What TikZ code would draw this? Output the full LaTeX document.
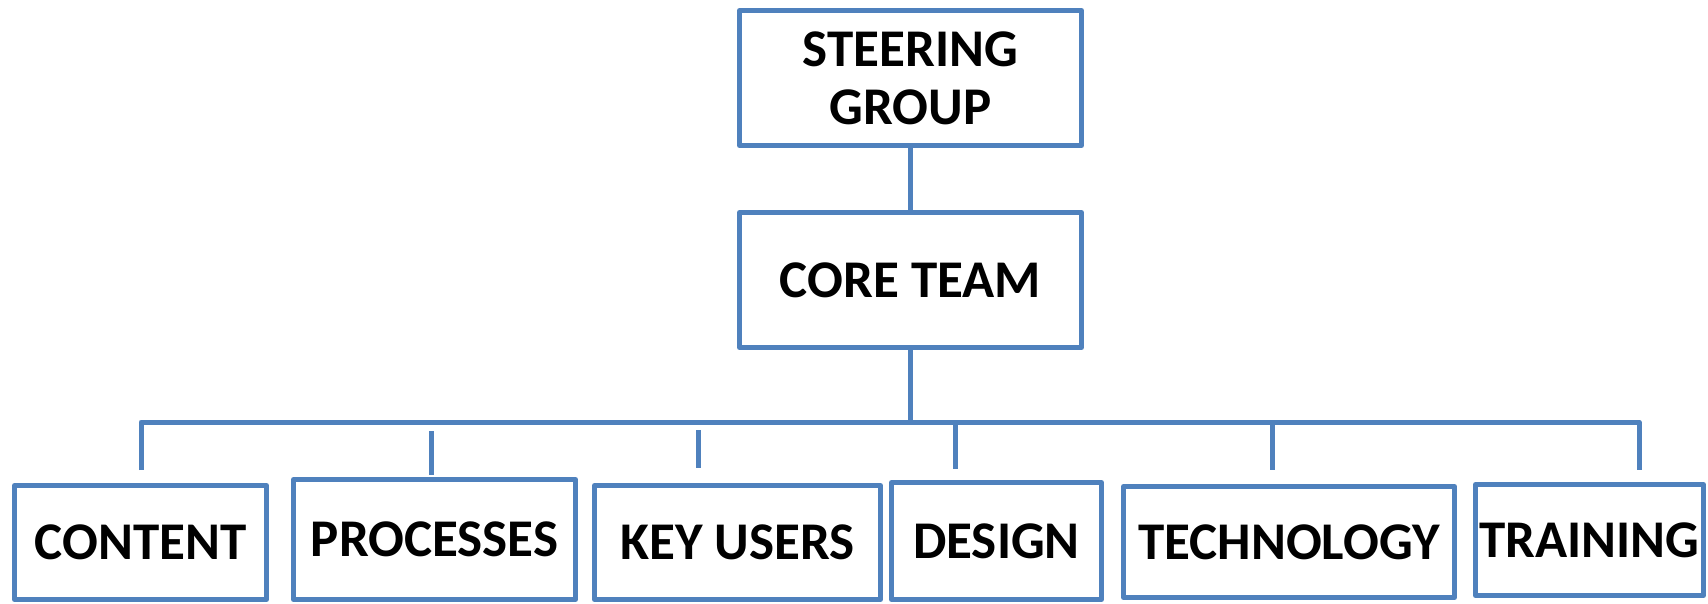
\documentclass[tikz,border=0pt]{standalone}
\usepackage{fontspec}
\setmainfont{Carlito}
\definecolor{boxblue}{RGB}{79,129,189}

\begin{document}
\begin{tikzpicture}[x=1pt,y=-1pt]
\tikzstyle{box}=[rectangle,draw,color=boxblue,text=black,line width=5pt,line join=round,inner sep=0pt,align=center,font=\bfseries\fontsize{53}{58}\selectfont]
\tikzstyle{link}=[draw=boxblue,line width=5pt,line join=round]
\useasboundingbox (0,0) rectangle (1708,604);

\node (1) at (910.5,78) [box,minimum width=342,minimum height=135]{STEERING\\GROUP};
\node (2) at (910.5,280) [box,minimum width=342,minimum height=135]{CORE TEAM};

\node (3) at (140.5,542.5) [box,minimum width=252,minimum height=114]{CONTENT};
\node (4) at (434.5,539.5) [box,minimum width=282,minimum height=120]{PROCESSES};
\node (5) at (737.5,542.5) [box,minimum width=286,minimum height=114]{KEY USERS};
\node (6) at (996.5,541) [box,minimum width=210,minimum height=117]{DESIGN};
\node (7) at (1289,542) [box,minimum width=331,minimum height=111]{TECHNOLOGY};
\node (8) at (1589.5,540) [box,minimum width=228,minimum height=111]{TRAINING};

% bus under the core team
\coordinate (9) at (910.5,422);
\coordinate (10) at (141,422);
\coordinate (11) at (1639,422);
\coordinate (12) at (431,431);
\coordinate (13) at (698,430);
\coordinate (14) at (955,422);
\coordinate (15) at (1272,422);

\draw[link] (1) -- (2);
\draw[link] (2) -- (9);
\draw[link] (10 |- 3.north) ++(0,-13) -- (10) -- (11) -- ++(0,48);
\draw[link,shorten >=2pt] (12) -- (12 |- 4.north);
\draw[link,shorten >=15pt] (13) -- (13 |- 5.north);
\draw[link,shorten >=11pt] (14) -- (14 |- 6.north);
\draw[link,shorten >=14pt] (15) -- (15 |- 7.north);
\end{tikzpicture}
\end{document}
